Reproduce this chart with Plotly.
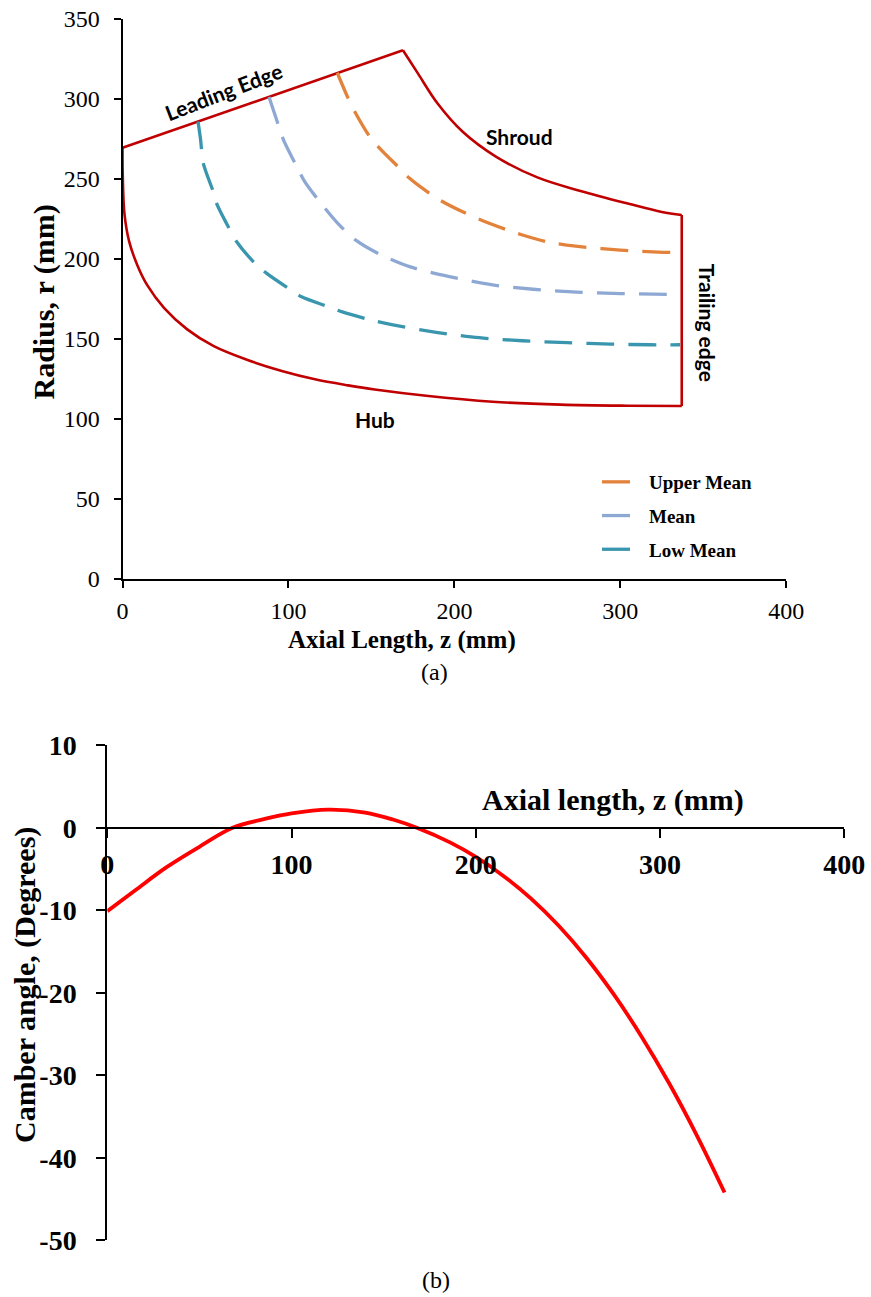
import plotly.graph_objects as go

W, H = 871, 1297

# ---------------- (a) meridional view of the blade passage (mm) ----------------
le_z = [0, 169]
le_r = [269.5, 330.5]

shroud_z = [169, 178, 190, 205, 225, 250, 276, 305, 325, 337]
shroud_r = [330.5, 316, 297, 279.5, 264, 251, 242.5, 234.5, 229.4, 227.5]

hub_z = [0, 0.2, 1.2, 4, 9, 15, 25, 39, 55, 75, 96, 116, 136, 152, 183, 223, 264, 304, 337]
hub_r = [269.5, 250, 228, 211, 196, 183.5, 169.5, 156, 145.5, 137, 130, 124.8, 121,
         118.4, 114.5, 110.8, 109, 108.3, 108.1]

te_z = [337, 337]
te_r = [227.5, 108.1]

upper_z = [129.4, 136, 140, 149, 155, 166, 173, 185, 193, 207, 216, 232, 241, 255.5,
           266.6, 275.6, 300, 326, 336]
upper_r = [316.4, 300.4, 292, 276.4, 269.2, 257.7, 250.4, 241, 235.8, 228.5, 224.4,
           218.1, 215, 210.8, 208.8, 207.7, 205.6, 204.2, 204]

mean_z = [88.3, 94, 97, 104, 110, 120, 130, 141, 155, 173, 197, 223, 247.5, 273.6,
          300, 320, 336]
mean_r = [301.3, 283.5, 274.5, 259.8, 248, 234.3, 222, 211.5, 203, 195.2, 189, 183.8,
          181.1, 179.3, 178.4, 178, 177.8]

low_z = [45.5, 47, 48.7, 54.7, 56.7, 64.8, 68.8, 79.8, 86.9, 99.9, 107.9, 124, 132,
         148, 163, 189, 215, 241, 268, 294, 318, 336]
low_r = [286, 275, 259.8, 242, 234.8, 218.1, 210.8, 197.3, 191, 181.7, 176.4, 170.2,
         167.1, 162.3, 158.8, 154.2, 150.8, 148.9, 147.7, 146.8, 146.4, 146.4]

z_ticks = [0, 100, 200, 300, 400]
r_ticks = [0, 50, 100, 150, 200, 250, 300, 350]

# ---------------- (b) camber angle distribution ----------------
camber_z = [0, 15, 32, 50, 68, 86, 100, 120, 140, 155, 168, 186, 200, 215, 230, 245,
            260, 275, 290, 305, 320, 335]
camber_deg = [-10.1, -7.6, -4.8, -2.3, 0, 1.1, 1.75, 2.2, 1.85, 1.0, 0, -1.77, -3.53,
              -5.83, -8.59, -11.88, -15.75, -20.23, -25.32, -31.0, -37.3, -44.2]

camber_ticks = [-50, -40, -30, -20, -10, 0, 10]
camber_tick_text = ["-50", "-40", "-30", "-20", "-10", "0", "10"]

# ---------------- styling ----------------
SERIF = "Liberation Serif"
SANS = "Lato"
EDGE_RED = "#C00000"
C_UPPER = "#E3823A"
C_MEAN = "#8EA8D4"
C_LOW = "#3A96AE"
DASH = "28px,14px"


def fx(px):
    return px / W


def fy(py):
    return 1 - py / H


fig = go.Figure()

# blade passage boundaries
for zz, rr in [(le_z, le_r), (shroud_z, shroud_r), (hub_z, hub_r), (te_z, te_r)]:
    fig.add_trace(go.Scatter(
        x=zz, y=rr, mode="lines", showlegend=False, hoverinfo="skip",
        line=dict(color=EDGE_RED, width=2.6, shape="spline", smoothing=1.0),
        xaxis="x", yaxis="y"))

# mean streamlines
for name, zz, rr, col in [("Upper Mean", upper_z, upper_r, C_UPPER),
                          ("Mean", mean_z, mean_r, C_MEAN),
                          ("Low Mean", low_z, low_r, C_LOW)]:
    fig.add_trace(go.Scatter(
        x=zz, y=rr, mode="lines", name=name, legendgroup=name,
        line=dict(color=col, width=3.3, dash=DASH, shape="spline", smoothing=0.8),
        xaxis="x", yaxis="y"))

# camber angle curve
fig.add_trace(go.Scatter(
    x=camber_z, y=camber_deg, mode="lines", showlegend=False,
    line=dict(color="#FF0000", width=3.8, shape="spline", smoothing=1.0),
    xaxis="x2", yaxis="y2"))

# plot-area geometry
top_dom_x = [fx(122.5), fx(786.3)]
top_dom_y = [fy(579), fy(19)]
bot_dom_x = [fx(107.3), fx(844.3)]
bot_dom_y = [fy(1240.3), fy(745.3)]
bot_range = [-50, 10]
zero_pos = bot_dom_y[0] + (0 - bot_range[0]) / (bot_range[1] - bot_range[0]) * (bot_dom_y[1] - bot_dom_y[0])

axis_common = dict(showline=True, linecolor="black", linewidth=2, ticks="outside",
                   tickcolor="black", tickwidth=2, showgrid=False, zeroline=False,
                   automargin=False)

fig.update_layout(
    template="none",
    width=W, height=H,
    margin=dict(l=0, r=0, t=0, b=0, pad=0),
    paper_bgcolor="white", plot_bgcolor="white",
    xaxis=dict(domain=top_dom_x, range=[0, 400], tickvals=z_ticks, anchor="y",
               ticklen=7, ticklabelstandoff=2,
               tickfont=dict(family=SERIF, size=24, color="black"), **axis_common),
    yaxis=dict(domain=top_dom_y, range=[0, 350], tickvals=r_ticks, anchor="x",
               ticklen=7, ticklabelstandoff=9,
               tickfont=dict(family=SERIF, size=24, color="black"), **axis_common),
    xaxis2=dict(domain=bot_dom_x, range=[0, 400], tickvals=z_ticks, anchor="free",
                position=zero_pos, ticklen=9, ticklabelstandoff=3,
                tickfont=dict(family=SERIF, size=28, color="black", weight="bold"),
                **axis_common),
    yaxis2=dict(domain=bot_dom_y, range=bot_range, tickvals=camber_ticks,
                ticktext=camber_tick_text, anchor="x2", ticklen=9, ticklabelstandoff=14,
                tickfont=dict(family=SERIF, size=28, color="black", weight="bold"),
                **axis_common),
    legend=dict(x=fx(597), y=fy(463), xanchor="left", yanchor="top",
                bgcolor="rgba(0,0,0,0)", itemwidth=42, tracegroupgap=6,
                font=dict(family=SERIF, size=19, color="black", weight="bold")),
    showlegend=True,
)

label_font = dict(family=SANS, size=21, color="black", weight="bold")
annotations = [
    dict(text="Leading Edge", x=60.7, y=304.6, xref="x", yref="y", textangle=-21,
         font=label_font),
    dict(text="Shroud", x=239.5, y=276.4, xref="x", yref="y", font=label_font),
    dict(text="Hub", x=152.1, y=99.4, xref="x", yref="y", font=label_font),
    dict(text="Trailing edge", x=352.5, y=159.8, xref="x", yref="y", textangle=90,
         font=label_font),
    dict(text="Radius, r (mm)", x=fx(44), y=fy(302.5), xref="paper", yref="paper",
         textangle=-90, font=dict(family=SERIF, size=30, color="black", weight="bold")),
    dict(text="Axial Length, z (mm)", x=fx(402), y=fy(640), xref="paper", yref="paper",
         font=dict(family=SERIF, size=25, color="black", weight="bold")),
    dict(text="(a)", x=fx(434), y=fy(672), xref="paper", yref="paper",
         font=dict(family=SERIF, size=24, color="black")),
    dict(text="Axial length, z (mm)", x=fx(613), y=fy(800), xref="paper", yref="paper",
         font=dict(family=SERIF, size=30, color="black", weight="bold")),
    dict(text="Camber angle, (Degrees)", x=fx(25), y=fy(985), xref="paper", yref="paper",
         textangle=-90, font=dict(family=SERIF, size=30, color="black", weight="bold")),
    dict(text="(b)", x=fx(436), y=fy(1280), xref="paper", yref="paper",
         font=dict(family=SERIF, size=24, color="black")),
]
for a in annotations:
    a.update(showarrow=False, xanchor="center", yanchor="middle")
fig.update_layout(annotations=annotations)

fig.write_html("out.html")
